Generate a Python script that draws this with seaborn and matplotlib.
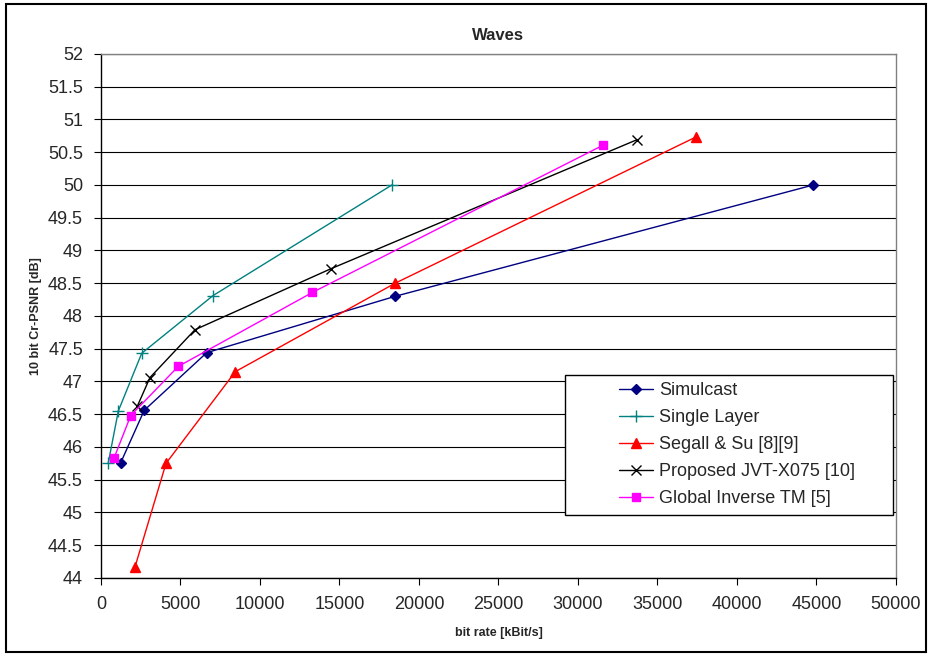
import pandas as pd
import numpy as np
import seaborn as sns
from matplotlib import pyplot as plt
from matplotlib.patches import Rectangle

# rate (kBit/s) / Cr-PSNR (dB) points
series_names = ["Simulcast", "Single Layer", "Segall & Su [8][9]",
                "Proposed JVT-X075 [10]", "Global Inverse TM [5]"]

simulcast_rate = [1240, 2720, 6650, 18500, 44800]
simulcast_psnr = [45.76, 46.56, 47.44, 48.30, 50.00]

single_rate = [460, 1090, 2560, 7040, 18300]
single_psnr = [45.76, 46.55, 47.43, 48.31, 50.00]

segall_rate = [2140, 4090, 8450, 18500, 37400]
segall_psnr = [44.17, 45.75, 47.15, 48.50, 50.73]

proposed_rate = [2280, 3080, 5910, 14450, 33700]
proposed_psnr = [46.62, 47.06, 47.79, 48.72, 50.69]

global_rate = [820, 1870, 4860, 13300, 31600]
global_psnr = [45.83, 46.48, 47.23, 48.36, 50.61]

y_ticks = np.arange(44, 52.01, 0.5)
x_ticks = np.arange(0, 50001, 5000)

rates = [simulcast_rate, single_rate, segall_rate, proposed_rate, global_rate]
psnrs = [simulcast_psnr, single_psnr, segall_psnr, proposed_psnr, global_psnr]
frames = []
for name, r, p in zip(series_names, rates, psnrs):
    frames.append(pd.DataFrame({"rate": r, "psnr": p, "series": name}))
df = pd.concat(frames, ignore_index=True)

colors = {"Simulcast": "#000080", "Single Layer": "#008080",
          "Segall & Su [8][9]": "#FF0000", "Proposed JVT-X075 [10]": "#000000",
          "Global Inverse TM [5]": "#FF00FF"}
markers = {"Simulcast": "D", "Single Layer": "+", "Segall & Su [8][9]": "^",
           "Proposed JVT-X075 [10]": "x", "Global Inverse TM [5]": "s"}
msize = {"Simulcast": 5, "Single Layer": 8, "Segall & Su [8][9]": 7,
         "Proposed JVT-X075 [10]": 7, "Global Inverse TM [5]": 5.5}

sns.set_style("white")
plt.rcParams['font.family'] = ['Liberation Sans', 'DejaVu Sans']

fig = plt.figure(figsize=(9.3, 6.55), dpi=100)
ax = fig.add_axes([0.1086, 0.1176, 0.8548, 0.8000])

for name in series_names:
    sub = df[df["series"] == name]
    sns.lineplot(data=sub, x="rate", y="psnr", ax=ax, sort=False, color=colors[name],
                 marker=markers[name], markersize=msize[name], markeredgewidth=1.0,
                 markeredgecolor=colors[name], linewidth=1.0, label=name, estimator=None)

ax.set_xlim(0, 50000)
ax.set_ylim(44, 52)
ax.set_xticks(x_ticks)
ax.set_yticks(y_ticks)
ax.set_xticklabels([str(int(v)) for v in x_ticks])
ax.set_yticklabels([("%g" % v) for v in y_ticks])
ax.tick_params(axis="both", labelsize=13, length=5, width=0.8, color="black",
               direction="out", bottom=True, left=True, pad=8)
ax.yaxis.grid(True, color="black", linewidth=0.8)
ax.xaxis.grid(False)
ax.set_axisbelow(True)
for s in ["left", "bottom"]:
    ax.spines[s].set_color("black")
    ax.spines[s].set_linewidth(1.0)
for s in ["top", "right"]:
    ax.spines[s].set_color("#808080")
    ax.spines[s].set_linewidth(1.0)

ax.set_title("Waves", fontsize=12, fontweight="bold", pad=10)
ax.set_xlabel("bit rate [kBit/s]", fontsize=9, fontweight="bold", labelpad=10)
ax.set_ylabel("10 bit Cr-PSNR [dB]", fontsize=9, fontweight="bold", labelpad=4)

# legend box drawn separately so the entries can sit indented like the original
ax.add_patch(Rectangle((565 / 930, 1 - 515 / 655), 328 / 930, 140 / 655,
                       transform=fig.transFigure, facecolor="white",
                       edgecolor="black", linewidth=1.0, zorder=5, clip_on=False))
leg = ax.legend(loc="upper left", bbox_to_anchor=(619 / 930, 1 - 382 / 655),
                bbox_transform=fig.transFigure, fontsize=13, frameon=False,
                handlelength=1.9, handletextpad=0.3, borderpad=0,
                labelspacing=0.56, borderaxespad=0)
leg.set_zorder(6)

fig.patches.append(Rectangle((0.006, 0.004), 0.99, 0.99, transform=fig.transFigure,
                             fill=False, edgecolor="black", linewidth=1.5))

fig.savefig("out.png", dpi=100)
